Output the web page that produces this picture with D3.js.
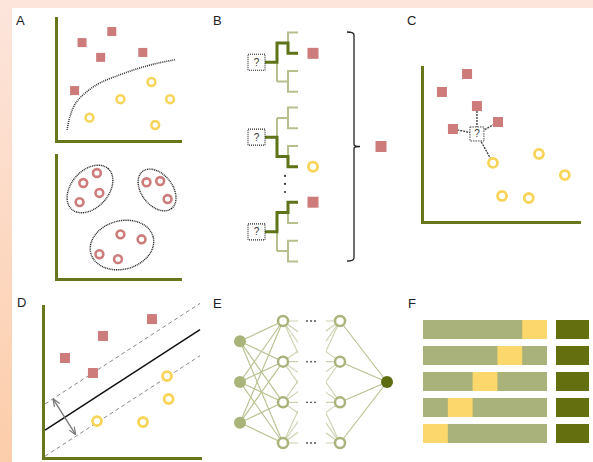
<!DOCTYPE html>
<html><head><meta charset="utf-8">
<script src="https://cdn.jsdelivr.net/npm/d3@7"></script>
<style>body{margin:0;background:#fff;} svg{display:block;}</style>
</head><body>
<script>
// ---------------- DATA ----------------
const panelLabels = ["A","B","C","D","E","F"];
// Panel A top (classification), feature units 0-10
const aClassSquares = [[4.5,8.9],[2.1,8.0],[3.6,6.8],[7.0,7.2],[1.5,4.1]];
const aClassRings   = [[7.7,4.8],[5.2,3.4],[9.2,3.4],[2.7,1.9],[8.0,1.3]];
const aBoundary     = [[0.9,0.9],[1.1,1.9],[1.6,3.1],[2.6,4.1],[3.6,4.75],[5.2,5.4],[6.8,5.95],[8.3,6.35],[9.6,6.6]];
// Panel A bottom (clustering)
const aClusters = [
  {cx:2.74, cy:7.26, rx:2.2, ry:1.5, angle:-48},
  {cx:8.15, cy:7.18, rx:1.9, ry:1.25, angle:52},
  {cx:5.32, cy:2.74, rx:2.6, ry:1.95, angle:-15}
];
const aClusterPoints = [[3.3,8.55],[2.2,7.74],[3.5,6.94],[1.9,6.2],[7.3,7.8],[8.4,7.9],[9.0,6.45],[5.2,3.6],[6.9,3.2],[3.5,2.0],[5.0,1.6]];
// Panel B (random forest): tree root rows, chosen leaf, prediction
const bTreeRoots = [2.9, 10.1, 19.2];
const bTreeLeaf  = [1, 3, 0];
const bTreeVote  = ["square","ring","square"];
const bEllipsisRows = [13.83, 14.6, 15.37];
const bFinalVote = "square";
// Panel C (kNN)
const cSquares = [[2.87,9.55],[1.27,8.39],[3.5,7.48],[4.84,6.45],[1.97,6.0]];
const cRings   = [[7.45,4.39],[4.52,3.81],[9.1,3.03],[5.1,1.68],[6.8,1.55]];
const cQuery   = [3.5,5.68];
const cNeighbours = [["square",2],["square",3],["square",4],["ring",1]];
// Panel D (SVM)
const dSquares = [[6.94,9.14],[3.82,8.03],[1.4,6.58],[3.18,5.59]];
const dRings   = [[7.9,5.39],[8.0,3.88],[3.44,2.43],[6.37,2.37]];
const dIntercept = 1.75, dSlope = 0.67, dMargin = 1.72;
const dLineRange = [0.13, 10];
const dArrow = [[0.66,3.86],[2.06,1.57]];
// Panel E (neural network)
const eLayerSizes = [3, 4, 4, 1];
const eLayerTypes = ["input","hidden","hidden","output"];
// Panel F (cross-validation)
const fFolds = 5;
const fTestFold = [4, 3, 2, 1, 0];

// ---------------- STYLE ----------------
const W = 593, H = 462;
const OLIVE = "#66771c", PINK = "#cd7b7b", YELLOW = "#f8d458";
const LIGHTG = "#a9b47b", DARKG = "#5e6c10";
const TREE_L = "#b5c08c", TREE_D = "#5f7419";

const svg = d3.select("body").append("svg").attr("width", W).attr("height", H);
const defs = svg.append("defs");
const bg = defs.append("linearGradient").attr("id","bg").attr("x1",0).attr("y1",0).attr("x2",0).attr("y2",1);
bg.append("stop").attr("offset",0).attr("stop-color","#fde5dc");
bg.append("stop").attr("offset",1).attr("stop-color","#fccdaa");
svg.append("rect").attr("width",W).attr("height",H).attr("fill","url(#bg)");
svg.append("rect").attr("x",12).attr("y",8).attr("width",W-12).attr("height",H-8).attr("fill","#fff");

const labelPos = [[16,25],[213,25],[407,25],[17,307],[213,308],[408,308]];
svg.selectAll("text.plabel").data(panelLabels).enter().append("text")
  .attr("class","plabel").attr("x",(d,i)=>labelPos[i][0]).attr("y",(d,i)=>labelPos[i][1])
  .attr("font-family","Liberation Sans, Arial, sans-serif").attr("font-size",13).attr("fill","#222").text(d=>d);

function drawAxes(x, y) {
  const gy = svg.append("g").attr("transform",`translate(${x.range()[0]},0)`)
    .call(d3.axisLeft(y).tickValues([]).tickSizeOuter(0));
  const gx = svg.append("g").attr("transform",`translate(0,${y.range()[0]})`)
    .call(d3.axisBottom(x).tickValues([]).tickSizeOuter(0));
  [gx,gy].forEach(g=>g.select(".domain").attr("stroke",OLIVE).attr("stroke-width",3).attr("stroke-linecap","square"));
}
function squares(g, pts, x, y, s) {
  g.selectAll(null).data(pts).enter().append("rect")
    .attr("x",d=>x(d[0])-s/2).attr("y",d=>y(d[1])-s/2).attr("width",s).attr("height",s).attr("fill",PINK);
}
function rings(g, pts, x, y, r, sw, col) {
  g.selectAll(null).data(pts).enter().append("circle")
    .attr("cx",d=>x(d[0])).attr("cy",d=>y(d[1])).attr("r",r)
    .attr("fill","#fff").attr("stroke",col).attr("stroke-width",sw);
}

// ---------------- PANEL A ----------------
const xA = d3.scaleLinear().domain([0,10]).range([56,180]);
const yA1 = d3.scaleLinear().domain([0,10]).range([141,18]);
const yA2 = d3.scaleLinear().domain([0,10]).range([279,155]);
drawAxes(xA, yA1);
drawAxes(xA, yA2);
const gA = svg.append("g");
gA.append("path").datum(aBoundary)
  .attr("d", d3.line().x(d=>xA(d[0])).y(d=>yA1(d[1])).curve(d3.curveCatmullRom))
  .attr("fill","none").attr("stroke","#333").attr("stroke-width",1.6).attr("stroke-dasharray","1,1");
squares(gA, aClassSquares, xA, yA1, 9);
rings(gA, aClassRings, xA, yA1, 3.9, 2.6, YELLOW);
const kA = xA(1)-xA(0);
gA.selectAll(null).data(aClusters).enter().append("ellipse")
  .attr("transform",d=>`translate(${xA(d.cx)},${yA2(d.cy)}) rotate(${d.angle})`)
  .attr("rx",d=>d.rx*kA).attr("ry",d=>d.ry*kA)
  .attr("fill","none").attr("stroke","#222").attr("stroke-width",1.4).attr("stroke-dasharray","1,0.8");
rings(gA, aClusterPoints, xA, yA2, 3.9, 2.6, PINK);

// ---------------- PANEL B ----------------
const yB = d3.scaleLinear().domain([0,22]).range([32,261]);
const gB = svg.append("g");
const BR = 1.85, LF = 1.0;
const xBox = 256.5, xStem = 277, xBr = 288, xLeaf = 298, xVote = 313;
bTreeRoots.forEach((r,i)=>{
  const b0 = yB(r-BR), b1 = yB(r+BR);
  const leaves = [r-BR-LF, r-BR+LF, r+BR-LF, r+BR+LF].map(yB);
  const light = `M${xStem},${b0}V${b1}M${xStem},${b0}H${xBr}M${xStem},${b1}H${xBr}` +
    `M${xLeaf},${leaves[0]}H${xBr}V${leaves[1]}H${xLeaf}M${xLeaf},${leaves[2]}H${xBr}V${leaves[3]}H${xLeaf}`;
  gB.append("path").attr("d",light).attr("fill","none").attr("stroke",TREE_L).attr("stroke-width",2);
  const k = bTreeLeaf[i];
  const by = k < 2 ? b0 : b1;
  const ly = leaves[k];
  gB.append("path").attr("d",`M${xBox+8.5},${yB(r)}H${xStem}V${by}H${xBr}V${ly}H${xLeaf}`)
    .attr("fill","none").attr("stroke",TREE_D).attr("stroke-width",3).attr("stroke-linejoin","miter");
  gB.append("rect").attr("x",xBox-8.5).attr("y",yB(r)-8).attr("width",17).attr("height",16)
    .attr("fill","#fff").attr("stroke","#222").attr("stroke-width",1.1).attr("stroke-dasharray","1,1");
  gB.append("text").attr("x",xBox).attr("y",yB(r)+3.5).attr("text-anchor","middle")
    .attr("font-family","Liberation Sans, Arial, sans-serif").attr("font-size",10).attr("fill","#333").text("?");
  if (bTreeVote[i] === "square")
    gB.append("rect").attr("x",xVote-5.5).attr("y",ly-5.5).attr("width",11).attr("height",11).attr("fill",PINK);
  else
    gB.append("circle").attr("cx",xVote).attr("cy",ly).attr("r",4.6).attr("fill","#fff").attr("stroke",YELLOW).attr("stroke-width",2.8);
});
gB.selectAll(null).data(bEllipsisRows).enter().append("circle")
  .attr("cx",285).attr("cy",d=>yB(d)).attr("r",1.1).attr("fill","#333");
gB.append("path")
  .attr("d",`M347,${yB(0)}Q354,${yB(0)} 354,${yB(0)+3}V${yB(11)-2}Q354,${yB(11)} 360,${yB(11)}Q354,${yB(11)} 354,${yB(11)+2}V${yB(22)-3}Q354,${yB(22)} 347,${yB(22)}`)
  .attr("fill","none").attr("stroke","#222").attr("stroke-width",1.3);
if (bFinalVote === "square")
  gB.append("rect").attr("x",381-5.5).attr("y",yB(11)-5.5).attr("width",11).attr("height",11).attr("fill",PINK);

// ---------------- PANEL C ----------------
const xC = d3.scaleLinear().domain([0,10]).range([422,579]);
const yC = d3.scaleLinear().domain([0,10]).range([222,67]);
drawAxes(xC, yC);
const gC = svg.append("g");
gC.selectAll(null).data(cNeighbours).enter().append("line")
  .attr("x1",xC(cQuery[0])).attr("y1",yC(cQuery[1]))
  .attr("x2",d=>xC((d[0]==="square"?cSquares:cRings)[d[1]][0]))
  .attr("y2",d=>yC((d[0]==="square"?cSquares:cRings)[d[1]][1]))
  .attr("stroke","#444").attr("stroke-width",1.4).attr("stroke-dasharray","2,1");
squares(gC, cSquares, xC, yC, 10);
rings(gC, cRings, xC, yC, 4.5, 2.8, YELLOW);
gC.append("rect").attr("x",xC(cQuery[0])-7).attr("y",yC(cQuery[1])-7).attr("width",14).attr("height",14)
  .attr("fill","#fff").attr("stroke","#444").attr("stroke-width",1).attr("stroke-dasharray","1.5,1");
gC.append("text").attr("x",xC(cQuery[0])).attr("y",yC(cQuery[1])+3.5).attr("text-anchor","middle")
  .attr("font-family","Liberation Sans, Arial, sans-serif").attr("font-size",10).attr("fill","#333").text("?");

// ---------------- PANEL D ----------------
const xD = d3.scaleLinear().domain([0,10]).range([43,200]);
const yD = d3.scaleLinear().domain([0,10]).range([458,306]);
drawAxes(xD, yD);
const gD = svg.append("g");
const dLine = off => d3.line().x(d=>xD(d)).y(d=>yD(dIntercept + off + dSlope*d));
gD.append("path").datum(dLineRange).attr("d",dLine(0)).attr("stroke","#111").attr("stroke-width",1.5).attr("fill","none");
[dMargin,-dMargin].forEach(o=>{
  gD.append("path").datum(dLineRange).attr("d",dLine(o)).attr("stroke","#888").attr("stroke-width",1)
    .attr("stroke-dasharray","4,3").attr("fill","none");
});
defs.append("marker").attr("id","ah").attr("viewBox","0 0 10 10").attr("refX",9).attr("refY",5)
  .attr("markerWidth",6).attr("markerHeight",6).attr("orient","auto-start-reverse")
  .append("path").attr("d","M0,1L10,5L0,9").attr("fill","none").attr("stroke","#777").attr("stroke-width",1.5);
gD.append("line").attr("x1",xD(dArrow[0][0])).attr("y1",yD(dArrow[0][1])).attr("x2",xD(dArrow[1][0])).attr("y2",yD(dArrow[1][1]))
  .attr("stroke","#777").attr("stroke-width",1.3).attr("marker-start","url(#ah)").attr("marker-end","url(#ah)");
squares(gD, dSquares, xD, yD, 10);
rings(gD, dRings, xD, yD, 4.5, 2.8, YELLOW);

// ---------------- PANEL E ----------------
const xE = d3.scaleLinear().domain([0,1,2,3]).range([240,283,340,387]);
const yE = d3.scaleLinear().domain([0,3]).range([321,443]);
const nodes = eLayerSizes.map((n,l)=>d3.range(n).map(i=>({l, i, x:xE(l), y:yE(i + (4-n)/2)})));
const gE = svg.append("g");
defs.append("clipPath").attr("id","clipL").append("rect").attr("x",283).attr("y",300).attr("width",15).attr("height",160);
defs.append("clipPath").attr("id","clipR").append("rect").attr("x",326).attr("y",300).attr("width",15).attr("height",160);
const links = [];
[[0,1],[2,3]].forEach(([a,b])=>nodes[a].forEach(s=>nodes[b].forEach(t=>links.push([s,t]))));
gE.selectAll(null).data(links).enter().append("line")
  .attr("x1",d=>d[0].x).attr("y1",d=>d[0].y).attr("x2",d=>d[1].x).attr("y2",d=>d[1].y)
  .attr("stroke",TREE_L).attr("stroke-width",1.1);
const partial = [];
nodes[1].forEach(s=>nodes[2].forEach(t=>partial.push([s,t])));
gE.append("g").attr("clip-path","url(#clipL)").attr("opacity",0.7).selectAll(null).data(partial).enter().append("line")
  .attr("x1",d=>d[0].x).attr("y1",d=>d[0].y).attr("x2",d=>d[1].x).attr("y2",d=>d[1].y)
  .attr("stroke",TREE_L).attr("stroke-width",1.1);
gE.append("g").attr("clip-path","url(#clipR)").attr("opacity",0.7).selectAll(null).data(partial).enter().append("line")
  .attr("x1",d=>d[0].x).attr("y1",d=>d[0].y).attr("x2",d=>d[1].x).attr("y2",d=>d[1].y)
  .attr("stroke",TREE_L).attr("stroke-width",1.1);
nodes[1].forEach(n=>{
  [-4,0,4].forEach(dx=>gE.append("circle").attr("cx",311+dx).attr("cy",n.y).attr("r",0.9).attr("fill","#444"));
});
nodes.flat().forEach(n=>{
  const t = eLayerTypes[n.l];
  if (t==="hidden")
    gE.append("circle").attr("cx",n.x).attr("cy",n.y).attr("r",5).attr("fill","#fff").attr("stroke",LIGHTG).attr("stroke-width",2.5);
  else
    gE.append("circle").attr("cx",n.x).attr("cy",n.y).attr("r",6).attr("fill",t==="input"?LIGHTG:DARKG);
});

// ---------------- PANEL F ----------------
const xF = d3.scaleLinear().domain([0,fFolds]).range([423,547]);
const yF = d3.scaleBand().domain(d3.range(fTestFold.length)).range([320,443]).paddingInner(0.27).paddingOuter(0);
const gF = svg.append("g");
fTestFold.forEach((tf,r)=>{
  gF.append("rect").attr("x",xF(0)).attr("y",yF(r)).attr("width",xF(fFolds)-xF(0)).attr("height",yF.bandwidth())
    .attr("fill","#a8b27a");
  gF.append("rect").attr("x",xF(tf)).attr("y",yF(r)).attr("width",xF(tf+1)-xF(tf)).attr("height",yF.bandwidth())
    .attr("fill","#fcd86c");
  gF.append("rect").attr("x",556).attr("y",yF(r)).attr("width",33).attr("height",yF.bandwidth()).attr("fill","#647010");
});
</script>
</body></html>
